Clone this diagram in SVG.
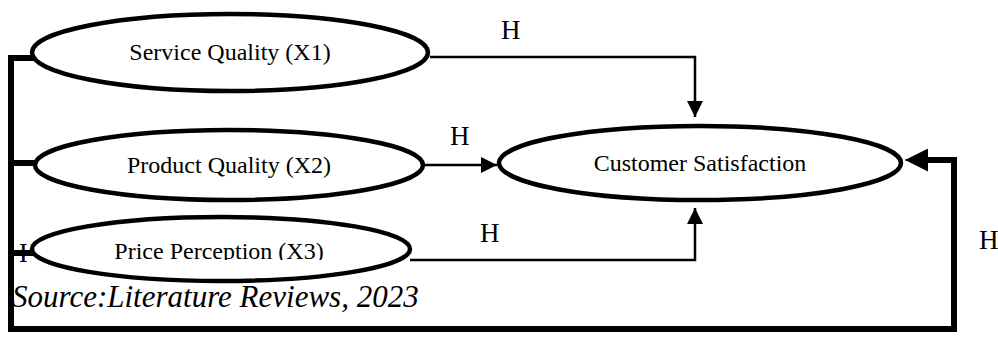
<svg xmlns="http://www.w3.org/2000/svg" width="998" height="338" viewBox="0 0 998 338">
<style>
.node{fill:#fff;stroke:#000;stroke-width:4.5}
.lbl{font-family:"Liberation Serif","Times New Roman",serif;font-size:24px;fill:#000;text-anchor:middle}
.h{font-family:"Liberation Serif","Times New Roman",serif;font-size:27px;fill:#000}
.thin{fill:none;stroke:#000;stroke-width:2.5}
.thick{fill:none;stroke:#000;stroke-width:6;stroke-linejoin:miter;stroke-linecap:square}
.src{font-family:"Liberation Serif","Times New Roman",serif;font-size:31px;font-style:italic;fill:#000}
</style>
<defs>
<marker id="arr" markerUnits="userSpaceOnUse" markerWidth="16" markerHeight="16" refX="16" refY="8" orient="auto">
<path d="M0,0 L16,8 L0,16 z" fill="#000"/>
</marker>
<marker id="arrBig" markerUnits="userSpaceOnUse" markerWidth="23" markerHeight="23" refX="23" refY="11.5" orient="auto">
<path d="M0,0 L23,11.5 L0,23 z" fill="#000"/>
</marker>
<clipPath id="clipPrice"><rect x="0" y="200" width="500" height="60"/></clipPath>
<clipPath id="clipH"><rect x="0" y="200" width="31" height="80"/></clipPath>
</defs>
<rect width="998" height="338" fill="#fff"/>
<g id="connectors">
<path class="thin" d="M430,57 H695 V117" marker-end="url(#arr)"/>
<path class="thin" d="M423,165 H497" marker-end="url(#arr)"/>
<path class="thin" d="M410,260 H695 V208" marker-end="url(#arr)"/>
<path class="thick" d="M32,58 H11 V329 H954 V160 H927"/>
<path class="thick" d="M11,163 H33"/>
<path class="thick" d="M11,253 H32"/>
<path d="M928,160 H905" stroke="#000" stroke-width="1" marker-end="url(#arrBig)"/>
</g>
<g id="labels">
<text class="h" x="501" y="39">H</text>
<text class="h" x="450" y="145">H</text>
<text class="h" x="480" y="242">H</text>
<text class="h" x="979" y="249">H</text>
<text class="h" x="19" y="262" clip-path="url(#clipH)">H</text>
</g>
<g id="node-service">
<ellipse class="node" cx="230" cy="52.5" rx="198" ry="38.5"/>
<text class="lbl" x="230" y="60">Service Quality (X1)</text>
</g>
<g id="node-product">
<ellipse class="node" cx="229" cy="165" rx="194" ry="35"/>
<text class="lbl" x="229" y="173">Product Quality (X2)</text>
</g>
<g id="node-price">
<ellipse class="node" cx="221" cy="249" rx="189" ry="32"/>
<text class="lbl" x="219" y="259" clip-path="url(#clipPrice)">Price Perception (X3)</text>
</g>
<g id="node-customer">
<ellipse class="node" cx="700" cy="163" rx="201" ry="37"/>
<text class="lbl" x="700" y="171">Customer Satisfaction</text>
</g>
<text class="src" x="12" y="307">Source:Literature Reviews, 2023</text>
</svg>
